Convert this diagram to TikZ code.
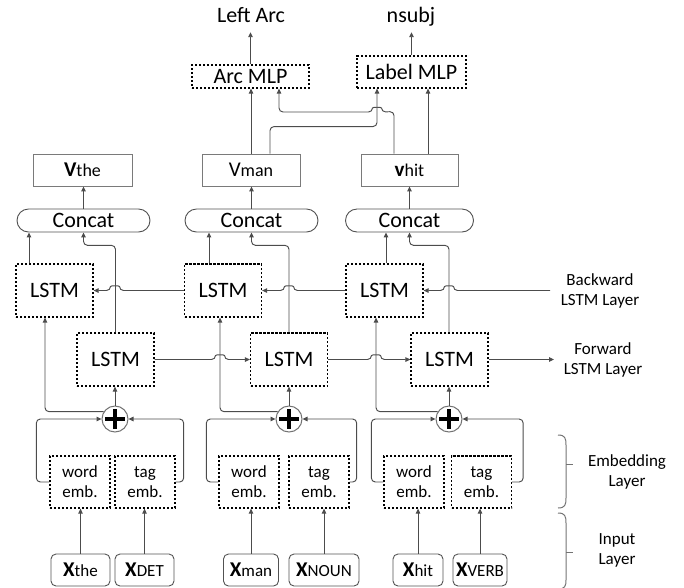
\documentclass[tikz,border=0pt]{standalone}
\usepackage{fontspec}
\setmainfont{Carlito}
\usetikzlibrary{arrows.meta,calc,shapes.misc}
\newcommand\fBig{\fontsize{22}{26}\selectfont}
\newcommand\fMid{\fontsize{17}{20}\selectfont}
\newcommand\fV{\fontsize{21}{24}\selectfont}
\newcommand\fSub{\fontsize{18}{21}\selectfont}
\newcommand\hopR[2]{-- (#1-4.5,#2) .. controls (#1-4.5,#2-5) and (#1+4.5,#2-5) .. (#1+4.5,#2)}
\newcommand\hopL[2]{-- (#1+4.5,#2) .. controls (#1+4.5,#2-5) and (#1-4.5,#2-5) .. (#1-4.5,#2)}
\begin{document}
\begin{tikzpicture}[x=1pt,y=-1pt,
  ln/.style={draw=black!70, line width=0.95pt},
  arr/.style={ln, -{Triangle[length=5pt,width=4.6pt]}, rounded corners=4pt},
  brc/.style={draw=black!55, line width=1pt},
  sbox/.style={draw=black!52, line width=0.9pt, inner sep=0, minimum height=32pt},
  dbox/.style={draw=black, line width=1.3pt, dash pattern=on 2.4pt off 1.6pt, inner sep=0},
  lstm/.style={dbox, minimum width=77pt, minimum height=53pt, font=\fBig},
  emb/.style={dbox, minimum width=60pt, minimum height=52pt, align=center, font=\fMid},
  inbox/.style={draw=black!68, line width=0.9pt, rounded corners=5pt, minimum height=32pt, inner sep=0},
  cat/.style={draw=black!68, line width=0.9pt, rounded rectangle, minimum height=23pt, inner sep=0, font=\fBig},
  pl/.style={circle, draw=black!55, line width=1pt, minimum size=26pt, inner sep=0, fill=white},
  mlp/.style={dbox, font=\fBig},
  ttl/.style={inner sep=0, anchor=base, font=\fBig, text depth=0pt},
  lay/.style={align=center, font=\fMid, inner sep=0}
]
\useasboundingbox (0,0) rectangle (684,587);

% ---------- column 1 ----------
\node[sbox, minimum width=99pt] (vthe) at (82.5,170) {{\fV\bfseries V}{\fSub the}};
\node[cat, minimum width=133pt] (cc1) at (83.5,220.5) {Concat};
\node[lstm] (lb1) at (54.5,290.5) {LSTM};
\node[lstm] (lf1) at (115.5,359.5) {LSTM};
\node[pl] (p1) at (115,419) {};
\node[emb] (we1) at (80,482) {word\\emb.};
\node[emb] (te1) at (145,482) {tag\\emb.};
\node[inbox, minimum width=59pt] (xw1) at (80.5,570) {{\fV\bfseries X}{\fMid the}};
\node[inbox, minimum width=59pt] (xt1) at (144.5,570) {{\fV\bfseries X}{\fMid DET}};

% ---------- column 2 ----------
\node[sbox, minimum width=98pt] (vman) at (251,170) {{\fV V}{\fSub man}};
\node[cat, minimum width=133pt] (cc2) at (251.5,220.5) {Concat};
\node[lstm] (lb2) at (223,290.5) {LSTM};
\node[lstm] (lf2) at (289,359.5) {LSTM};
\node[pl] (p2) at (289,419) {};
\node[emb] (we2) at (249,482) {word\\emb.};
\node[emb] (te2) at (319,482) {tag\\emb.};
\node[inbox, minimum width=55pt] (xw2) at (251,570) {{\fV\bfseries X}{\fMid man}};
\node[inbox, minimum width=70pt] (xt2) at (324,570) {{\fV\bfseries X}{\fMid NOUN}};

% ---------- column 3 ----------
\node[sbox, minimum width=97pt] (vhit) at (409.5,170) {{\fV\bfseries v}{\fSub hit}};
\node[cat, minimum width=128pt] (cc3) at (409.5,220.5) {Concat};
\node[lstm] (lb3) at (384.5,290.5) {LSTM};
\node[lstm] (lf3) at (449.5,359.5) {LSTM};
\node[pl] (p3) at (449,419) {};
\node[emb] (we3) at (414,482) {word\\emb.};
\node[emb] (te3) at (481.5,482) {tag\\emb.};
\node[inbox, minimum width=50pt] (xw3) at (418,570) {{\fV\bfseries X}{\fMid hit}};
\node[inbox, minimum width=54pt] (xt3) at (480,570) {{\fV\bfseries X}{\fMid VERB}};

% ---------- top ----------
\node[mlp, minimum width=117pt, minimum height=23pt] (arc) at (250.5,76.5) {Arc MLP};
\node[mlp, minimum width=109pt, minimum height=32pt] (lab) at (411.5,72) {Label MLP};
\node[ttl] (leftarc) at (251,22) {Left Arc};
\node[ttl] (nsubj) at (411,22) {nsubj};

% ---------- right labels ----------
\node[lay] (bwl) at (600,291) {Backward\\LSTM Layer};
\node[lay] (fwl) at (603,359.5) {Forward\\LSTM Layer};
\node[lay] (embl) at (627,472) {Embedding\\Layer};
\node[lay] (inl) at (617,550) {Input\\Layer};
\coordinate (bstart) at (550,290.5);
\coordinate (fend) at (554,359.5);

% plus signs
\foreach \p in {p1,p2,p3}{
  \draw[line width=4.6pt] ($(\p)+(-10,0)$) -- ($(\p)+(10,0)$);
  \draw[line width=4.6pt] ($(\p)+(0,-10)$) -- ($(\p)+(0,10)$);
}

% ---------- input -> embeddings ----------
\foreach \a/\b in {xw1/we1,xt1/te1,xw2/we2,xt2/te2,xw3/we3,xt3/te3}{
  \draw[arr] (\a.north) -- (\a.north |- \b.south);
}

% ---------- embeddings -> plus ----------
\draw[arr] (we1.west) -- ++(-13,0) |- (p1.west);
\draw[arr] (te1.east) -- ++(8,0) |- (p1.east);
\draw[arr] (we2.west) -- ++(-12,0) |- (p2.west);
\draw[arr] (te2.east) -- ++(7,0) |- (p2.east);
\draw[arr] (we3.west) -- ++(-12,0) |- (p3.west);
\draw[arr] (te3.east) -- ++(11,0) |- (p3.east);

% ---------- plus -> LSTMs ----------
\foreach \p/\f in {p1/lf1,p2/lf2,p3/lf3}{
  \draw[arr] (\p.north) -- (\p.north |- \f.south);
}
\draw[arr] (p1.147) -| ($(lb1.south)+(-9.5,0)$);
\draw[arr] (p2.147) -| ($(lb2.south)+(-3,0)$);
\draw[arr] (p3.147) -| ($(lb3.south)+(-8.5,0)$);

% ---------- forward chain ----------
\draw[arr] (lf1.east) \hopR{220}{359.5} -- (lf2.west);
\draw[arr] (lf2.east) \hopR{376}{359.5} -- (lf3.west);
\draw[arr] (lf3.east) -- (fend);

% ---------- backward chain ----------
\draw[arr] (bstart) \hopL{449}{290.5} -- (lb3.east);
\draw[arr] (lb3.west) \hopL{289}{290.5} -- (lb2.east);
\draw[arr] (lb2.west) \hopL{115}{290.5} -- (lb1.east);

% ---------- LSTMs -> concat ----------
\draw[arr] ($(lb1.north)+(-25.5,0)$) coordinate (t1) -- (t1 |- cc1.south);
\draw[arr] ($(lb2.north)+(-14,0)$) coordinate (t2) -- (t2 |- cc2.south);
\draw[arr] ($(lb3.north)+(1.5,0)$) coordinate (t3) -- (t3 |- cc3.south);
\draw[arr] (lf1.north) -- ++(0,-87) -| (cc1.south);
\draw[arr] (lf2.north) -- ++(0,-87) -| (cc2.south);
\draw[arr] ($(lf3.north)+(-0.5,0)$) -- ++(0,-87) -| (cc3.south);

% ---------- concat -> v ----------
\draw[arr] (cc1.north) -- (cc1.north |- vthe.south);
\draw[arr] (cc2.north) -- (cc2.north |- vman.south);
\draw[arr] (cc3.north) -- (cc3.north |- vhit.south);

% ---------- v -> MLPs ----------
\draw[arr] (vman.north) -- (vman.north |- arc.south);
\draw[arr] ($(vman.north)+(19,0)$) -- ++(0,-27) -| ($(lab.south)+(-34.5,0)$);
\draw[arr] ($(vhit.north)+(-15.5,0)$) -- ++(0,-42) \hopL{377}{112} -| ($(arc.south)+(28.5,0)$);
\draw[arr] ($(vhit.north)+(18.5,0)$) coordinate (t4) -- (t4 |- lab.south);

% ---------- MLPs -> outputs ----------
\draw[arr, shorten >=10pt] (arc.north) -- (arc.north |- leftarc.south);
\draw[arr, shorten >=10pt] (lab.north) -- (lab.north |- nsubj.south);

% ---------- braces ----------
\draw[brc] (558,435) .. controls (565,435) and (566,438) .. (566,445) -- (566,498) .. controls (566,505) and (565,508) .. (558,508);
\draw[brc] (566,464) -- (573,464);
\draw[brc] (558,513) .. controls (565,513) and (566,516) .. (566,523) -- (566,580) .. controls (566,586) and (565,589) .. (558,589);
\draw[brc] (566,552) -- (573,552);
\end{tikzpicture}
\end{document}
